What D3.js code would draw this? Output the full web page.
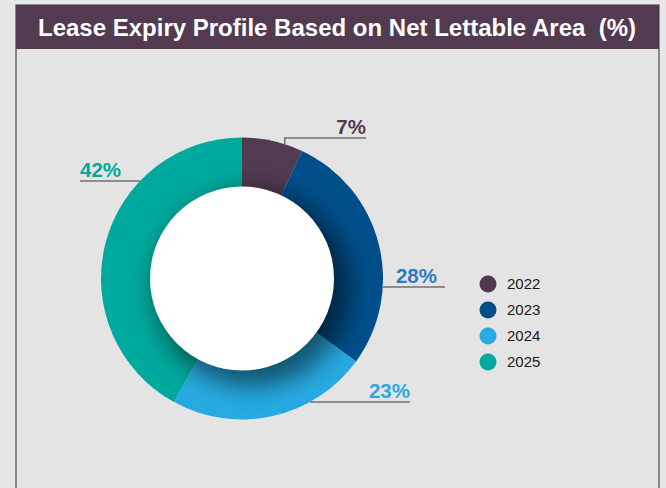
<!DOCTYPE html>
<html>
<head>
<meta charset="utf-8">
<script src="https://cdn.jsdelivr.net/npm/d3@7"></script>
<style>
  html, body { margin: 0; padding: 0; background: #e7e7e8; }
  svg { display: block; font-family: "Liberation Sans", Arial, Helvetica, sans-serif; }
</style>
</head>
<body>
<svg width="666" height="488"></svg>
<script>
const years = ['2022', '2023', '2024', '2025'];
const shares = [7, 28, 23, 42];
const colors = ['#523a51', '#004f8a', '#27aae1', '#00a99d'];
const labelColors = ['#523a51', '#2a7bc4', '#29abe2', '#00a99d'];
const title = 'Lease Expiry Profile Based on Net Lettable Area  (%)';

const svg = d3.select('svg');
const width = +svg.attr('width');
const height = +svg.attr('height');

const cx = 242, cy = 278.5;
const outerR = 141, innerR = 92;

// panel
svg.append('rect')
  .attr('x', 16).attr('y', 5).attr('width', 643).attr('height', height)
  .attr('fill', '#e4e4e4').attr('stroke', '#4a4a4a').attr('stroke-width', 1.2);
svg.append('rect')
  .attr('x', 16).attr('y', 5).attr('width', 643).attr('height', 44)
  .attr('fill', '#523a51');
svg.append('text')
  .attr('x', 337).attr('y', 36)
  .attr('text-anchor', 'middle')
  .attr('fill', '#fff')
  .attr('font-size', 24)
  .attr('font-weight', 'bold')
  .attr('textLength', 598)
  .attr('lengthAdjust', 'spacingAndGlyphs')
  .style('white-space', 'pre')
  .text(title);

const defs = svg.append('defs');
defs.append('filter').attr('id', 'blur')
  .attr('x', '-50%').attr('y', '-50%').attr('width', '200%').attr('height', '200%')
  .append('feGaussianBlur').attr('stdDeviation', 12);
defs.append('clipPath').attr('id', 'ring')
  .append('circle').attr('cx', cx).attr('cy', cy).attr('r', outerR);

const pie = d3.pie().sort(null).value(d => d)(shares);
const arc = d3.arc().innerRadius(0).outerRadius(outerR);

const g = svg.append('g').attr('transform', `translate(${cx},${cy})`);
g.selectAll('.slice')
  .data(pie)
  .enter().append('path')
    .attr('class', 'slice')
    .attr('d', arc)
    .attr('fill', (d, i) => colors[i]);

// inner shadow around the hole
svg.append('g').attr('clip-path', 'url(#ring)')
  .append('circle')
    .attr('cx', cx + 10).attr('cy', cy + 10).attr('r', innerR + 6)
    .attr('fill', '#000').attr('opacity', 0.5)
    .attr('filter', 'url(#blur)');

svg.append('circle')
  .attr('cx', cx).attr('cy', cy).attr('r', innerR)
  .attr('fill', '#fff');

// labels: line y, line end x, side of the ring
const labels = [
  { y: 138, end: 366, side: 'top' },
  { y: 287, end: 445, side: 'right', textEnd: 437 },
  { y: 402, end: 410, side: 'right' },
  { y: 181, end: 80, side: 'left' }
];

labels.forEach((l, i) => {
  const p = pie[i];
  let x0, path;
  if (l.side === 'top') {
    const a = p.startAngle + (p.endAngle - p.startAngle) * 0.7;
    x0 = cx + outerR * Math.sin(a);
    const y0 = cy - outerR * Math.cos(a) + 1;
    path = `M${x0},${y0}V${l.y}H${l.end}`;
  } else {
    const dy = l.y - cy;
    const dx = Math.sqrt(outerR * outerR - dy * dy);
    x0 = l.side === 'left' ? cx - dx : cx + dx;
    path = `M${x0},${l.y}H${l.end}`;
  }
  svg.append('path')
    .attr('d', path)
    .attr('fill', 'none')
    .attr('stroke', '#707070')
    .attr('stroke-width', 1.6);
  svg.append('text')
    .attr('x', l.side === 'left' ? l.end : (l.textEnd || l.end))
    .attr('y', l.y - 4)
    .attr('text-anchor', l.side === 'left' ? 'start' : 'end')
    .attr('fill', labelColors[i])
    .attr('font-size', 20.5)
    .attr('font-weight', 'bold')
    .text(shares[i] + '%');
});

// legend
const legend = svg.append('g').attr('transform', 'translate(488,284)');
const item = legend.selectAll('.item')
  .data(years)
  .enter().append('g')
    .attr('class', 'item')
    .attr('transform', (d, i) => `translate(0,${i * 26})`);
item.append('circle')
  .attr('r', 8.5)
  .attr('fill', (d, i) => colors[i]);
item.append('text')
  .attr('x', 19)
  .attr('dy', '0.36em')
  .attr('font-size', 15)
  .attr('fill', '#1a1a1a')
  .text(d => d);
</script>
</body>
</html>
